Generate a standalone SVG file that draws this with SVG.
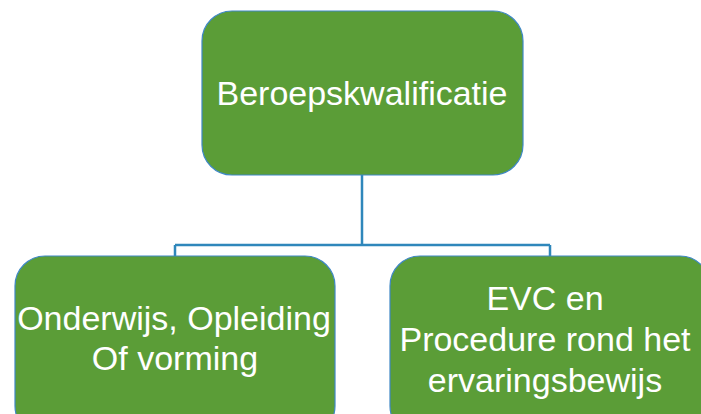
<svg xmlns="http://www.w3.org/2000/svg" width="701" height="414" viewBox="0 0 701 414">
<style>
.box{fill:#5b9d37;stroke:#3f88c5;stroke-width:1.2}
.t{font-family:"Liberation Sans",Arial,sans-serif;font-size:34px;fill:#ffffff;text-anchor:middle}
.c{fill:none;stroke:#2f87bb;stroke-width:2.5}
</style>
<rect x="0" y="0" width="701" height="414" fill="#ffffff"/>
<g id="connectors">
<path class="c" d="M362,175 V245 M175,245 H550 M175,245 V257 M550,245 V257"/>
</g>
<g id="node-top">
<rect class="box" x="202" y="11" width="321" height="164" rx="30" ry="30"/>
<text class="t" x="362" y="105">Beroepskwalificatie</text>
</g>
<g id="node-left">
<rect class="box" x="15" y="256" width="320" height="180" rx="30" ry="30"/>
<text class="t" x="174" y="330">Onderwijs, Opleiding</text>
<text class="t" x="175" y="370">Of vorming</text>
</g>
<g id="node-right">
<rect class="box" x="390" y="256" width="320" height="180" rx="30" ry="30"/>
<text class="t" x="545" y="310">EVC en</text>
<text class="t" x="545" y="351">Procedure rond het</text>
<text class="t" x="545" y="392">ervaringsbewijs</text>
</g>
</svg>
